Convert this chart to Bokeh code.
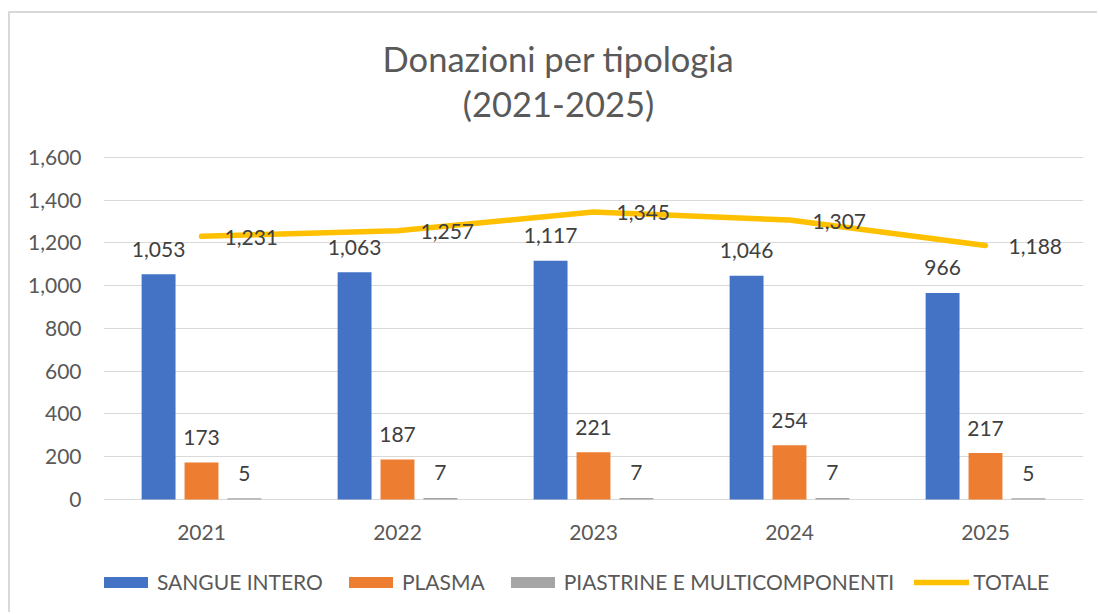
from bokeh.plotting import figure
from bokeh.models import (ColumnDataSource, FactorRange, Range1d, Legend, LegendItem,
                          NumeralTickFormatter, FixedTicker)
from bokeh.transform import dodge
from bokeh.embed import file_html
from bokeh.resources import INLINE
from bokeh.core.properties import value

years = ["2021", "2022", "2023", "2024", "2025"]
sangue = [1053, 1063, 1117, 1046, 966]
plasma = [173, 187, 221, 254, 217]
piastrine = [5, 7, 7, 7, 5]
totale = [1231, 1257, 1345, 1307, 1188]
series_names = ["SANGUE INTERO", "PLASMA", "PIASTRINE E MULTICOMPONENTI", "TOTALE"]
colors = ["#4472C4", "#ED7D31", "#A5A5A5", "#FFC000"]
y_ticks = [0, 200, 400, 600, 800, 1000, 1200, 1400, 1600]
title_lines = ["Donazioni per tipologia", "(2021-2025)"]

FONT = "Lato"
TXT = "#404040"
AX = "#595959"

src = ColumnDataSource(dict(
    years=years, sangue=sangue, plasma=plasma, piastrine=piastrine, totale=totale,
    l_sangue=[f"{v:,}" for v in sangue], l_plasma=[f"{v:,}" for v in plasma],
    l_piastrine=[f"{v:,}" for v in piastrine], l_totale=[f"{v:,}" for v in totale],
))

# the plotting frame spans the whole chart box (title above, legend below);
# the value axis itself only runs 0..1600
p = figure(width=1089, height=601, x_range=FactorRange(*years, range_padding=0),
           y_range=Range1d(-515, 2250), output_backend="svg", toolbar_location=None,
           min_border_left=93, min_border_right=16, min_border_top=5, min_border_bottom=5)
p.margin = (11, 0, 0, 8)
p.styles = {"border-left": "2px solid #D9D9D9", "border-top": "2px solid #D9D9D9"}
p.outline_line_color = None
p.title = None

# chart title, two centred lines above the value area
title_src = ColumnDataSource(dict(x=[years[2], years[2]], y=[2063, 1853], text=title_lines))
p.text(x="x", y="y", text="text", source=title_src, x_offset=-35,
       text_align="center", text_baseline="middle",
       text_font=value(FONT), text_font_size="34.5px", text_color=AX)

off = 0.219
w = 0.173
r1 = p.vbar(x=dodge("years", -off, range=p.x_range), top="sangue", width=w, source=src,
            fill_color=colors[0], line_color=None)
r2 = p.vbar(x=dodge("years", 0, range=p.x_range), top="plasma", width=w, source=src,
            fill_color=colors[1], line_color=None)
r3 = p.vbar(x=dodge("years", off, range=p.x_range), top="piastrine", width=w, source=src,
            fill_color=colors[2], line_color=None)
r4 = p.line(x="years", y="totale", source=src, line_color=colors[3], line_width=5.5,
            line_cap="round", line_join="round")

for col, lab, dx in [("sangue", "l_sangue", -off), ("plasma", "l_plasma", 0),
                     ("piastrine", "l_piastrine", off)]:
    p.text(x=dodge("years", dx, range=p.x_range), y=col, text=lab, source=src,
           text_align="center", text_baseline="middle", y_offset=-25,
           text_font=value(FONT), text_font_size="21px", text_color=TXT)
p.text(x="years", y="totale", text="l_totale", source=src, text_align="left",
       text_baseline="middle", x_offset=23, y_offset=1,
       text_font=value(FONT), text_font_size="21px", text_color=TXT)

p.xgrid.grid_line_color = None
p.ygrid.grid_line_color = "#D9D9D9"
p.ygrid.grid_line_width = 1
p.yaxis.ticker = FixedTicker(ticks=y_ticks)
p.yaxis.formatter = NumeralTickFormatter(format="0,0")
for ax in (p.xaxis, p.yaxis):
    ax.axis_line_color = None
    ax.major_tick_line_color = None
    ax.minor_tick_line_color = None
    ax.major_label_text_font = FONT
    ax.major_label_text_font_size = "21px"
    ax.major_label_text_color = AX
p.yaxis.major_label_standoff = 16
p.xaxis.major_label_standoff = 20
p.xaxis.fixed_location = 0

legend = Legend(items=[
    LegendItem(label=series_names[0], renderers=[r1]),
    LegendItem(label=series_names[1], renderers=[r2]),
    LegendItem(label=series_names[2], renderers=[r3]),
    LegendItem(label=series_names[3], renderers=[r4]),
], orientation="horizontal", location=(-5, 15), glyph_width=55, glyph_height=14,
    label_standoff=4, spacing=20, label_text_font=FONT, label_text_font_size="21px",
    label_text_color=AX, border_line_color=None, background_fill_alpha=0,
    padding=0, margin=0)
p.add_layout(legend, "center")

open("out.html", "w").write(file_html(p, INLINE))
